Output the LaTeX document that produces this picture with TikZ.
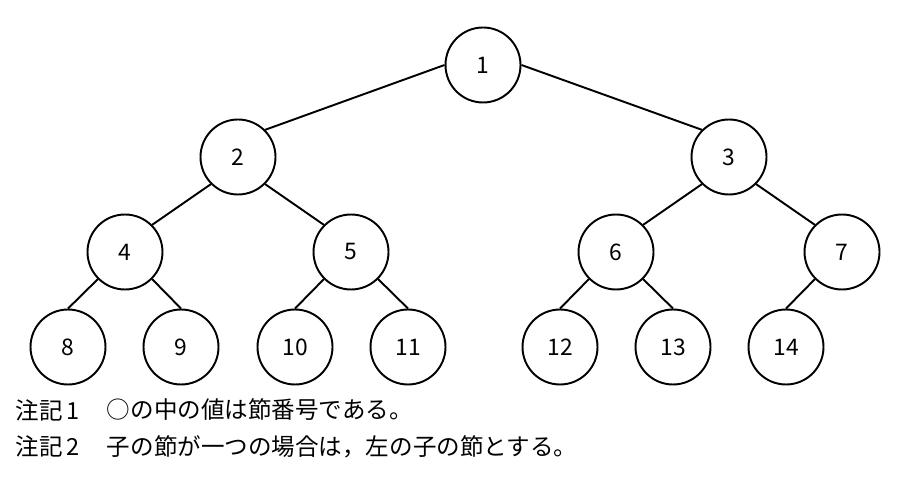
\documentclass[tikz,border=0pt]{standalone}
\usepackage{fontspec}
\newfontfamily\jpfont{Noto Sans CJK JP}
\usetikzlibrary{positioning}

\begin{document}
\begin{tikzpicture}[ node distance=1.9cm, on grid,
	line width=1.1pt,
	knot/.style={circle,draw,minimum size=1.5cm,inner sep=0pt,font=\jpfont\fontsize{13}{15}\selectfont},
	note/.style={anchor=west,inner sep=0pt,font=\jpfont\fontsize{13.4}{16}\selectfont}
	]
	\useasboundingbox (0,0) rectangle (18.4,-9.54);
	\node[knot] (n1) at (9.66,-1.3) {1};
	\node[knot] (n2) [below left=1.84cm and 4.9cm of n1] {2};
	\node[knot] (n3) [below right=1.84cm and 4.92cm of n1] {3};
	\node[knot] (n4) [below left=1.9cm and 2.26cm of n2] {4};
	\node[knot] (n5) [below right=1.9cm and 2.26cm of n2] {5};
	\node[knot] (n6) [below left=1.9cm and 2.26cm of n3] {6};
	\node[knot] (n7) [below right=1.9cm and 2.26cm of n3] {7};
	\node[knot] (n8) [below left=1.9cm and 1.14cm of n4] {8};
	\node[knot] (n9) [below right=1.9cm and 1.12cm of n4] {9};
	\node[knot] (n10) [below left=1.9cm and 1.12cm of n5] {10};
	\node[knot] (n11) [below right=1.9cm and 1.14cm of n5] {11};
	\node[knot] (n12) [below left=1.9cm and 1.12cm of n6] {12};
	\node[knot] (n13) [below right=1.9cm and 1.14cm of n6] {13};
	\node[knot] (n14) [below left=1.9cm and 1.12cm of n7] {14};

	\path (n1.west) edge (n2.north east);
	\path (n1.east) edge (n3.north west);
	\path (n2.south west) edge (n4.north east);
	\path (n2.south east) edge (n5.north west);
	\path (n3.south west) edge (n6.north east);
	\path (n3.south east) edge (n7.north west);
	\path (n4.south west) edge (n8.north);
	\path (n4.south east) edge (n9.north);
	\path (n5.south west) edge (n10.north);
	\path (n5.south east) edge (n11.north);
	\path (n6.south west) edge (n12.north);
	\path (n6.south east) edge (n13.north);
	\path (n7.south west) edge (n14.north);

	\node[note] (lab1) at (0.3,-8.2) {注記\,1};
	\node[note] (txt1) at (2.12,-8.2) {○の中の値は節番号である。};
	\node[note] (lab2) at (0.3,-8.93) {注記\,2};
	\node[note] (txt2) at (2.12,-8.93) {子の節が一つの場合は，左の子の節とする。};
	\end{tikzpicture}
\end{document}
